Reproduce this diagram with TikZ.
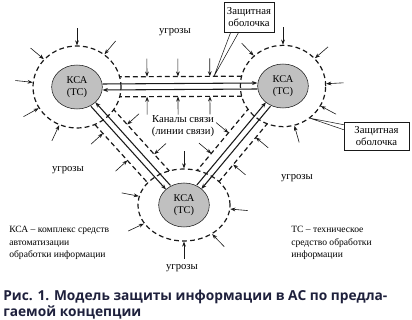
\documentclass[tikz,border=0pt]{standalone}
\usepackage{fontspec}
\setmainfont{Liberation Serif}
\newfontfamily\capfont{Open Sans}
\usetikzlibrary{arrows.meta,calc,shapes.geometric}
\definecolor{ink}{RGB}{25,25,25}
\definecolor{station}{RGB}{192,192,192}
\definecolor{capink}{RGB}{30,32,60}
\tikzset{
  >={Stealth[length=4pt,width=3pt]},
  ksa/.style={ellipse,draw=ink,fill=station,thin,minimum width=38pt,minimum height=33pt,
    inner sep=0pt,align=center,font=\fontsize{7.8}{9}\selectfont},
  shell/.style={ellipse,draw=ink,fill=white,line width=0.9pt,dash pattern=on 3.6pt off 2.4pt,inner sep=0pt},
  wall/.style={draw=ink,line width=0.9pt,dash pattern=on 3.6pt off 2.4pt},
  link/.style={draw=ink,line width=0.8pt},
  threat/.style={->,draw=ink,line width=0.45pt,>={Stealth[length=3.8pt,width=2.8pt]}},
  tag/.style={font=\fontsize{8}{9}\selectfont,align=center,inner sep=0pt},
  legend/.style={font=\fontsize{7.2}{9.4}\selectfont,align=left,inner sep=0pt,anchor=north west},
  callout/.style={draw=ink,thin,fill=white,align=center,inner sep=1pt,font=\fontsize{8}{9.4}\selectfont},
}
\begin{document}
\begin{tikzpicture}[x=0.75pt,y=-0.75pt]
  \useasboundingbox (0,0) rectangle (412,320);
  \coordinate (cL) at (77,87);
  \coordinate (cR) at (283,86);
  \coordinate (cB) at (184,205);
  % channel walls
  \draw[wall] ($(cL)!7.5pt!90:(cR)$) -- ($(cR)!7.5pt!-90:(cL)$);
  \draw[wall] ($(cL)!7.5pt!-90:(cR)$) -- ($(cR)!7.5pt!90:(cL)$);
  \draw[wall] ($(cL)!9pt!90:(cB)$) -- ($(cB)!9pt!-90:(cL)$);
  \draw[wall] ($(cL)!9pt!-90:(cB)$) -- ($(cB)!9pt!90:(cL)$);
  \draw[wall] ($(cB)!9pt!90:(cR)$) -- ($(cR)!9pt!-90:(cB)$);
  \draw[wall] ($(cB)!9pt!-90:(cR)$) -- ($(cR)!9pt!90:(cB)$);
  % protective shells
  \node[shell,minimum width=66pt,minimum height=61.5pt] (shellL) at (cL) {};
  \node[shell,minimum width=64pt,minimum height=61pt] (shellR) at (cR) {};
  \node[shell,minimum width=69pt,minimum height=54pt] (shellB) at (cB) {};
  % stations
  \node[ksa] (ksaL) at (cL) {КСА\\(ТС)};
  \node[ksa] (ksaR) at (cR) {КСА\\(ТС)};
  \node[ksa] (ksaB) at (cB) {КСА\\(ТС)};
  % links
  \draw[link,->] ($(ksaL.0)+(90:2.25pt)$) -- ($(ksaR.180)+(90:2.25pt)$);
  \draw[link,<-] ($(ksaL.0)+(-90:2.25pt)$) -- ($(ksaR.180)+(-90:2.25pt)$);
  \draw[link,<-] ($(ksaL.-47.8)+(42.2:2.25pt)$) -- ($(ksaB.132.2)+(42.2:2.25pt)$);
  \draw[link,->] ($(ksaL.-47.8)+(-137.8:2.25pt)$) -- ($(ksaB.132.2)+(-137.8:2.25pt)$);
  \draw[link,->] ($(ksaB.50.2)+(140.2:2.25pt)$) -- ($(ksaR.-129.8)+(140.2:2.25pt)$);
  \draw[link,<-] ($(ksaB.50.2)+(-39.8:2.25pt)$) -- ($(ksaR.-129.8)+(-39.8:2.25pt)$);
  % threats on shells
  \foreach \a in {50,90,140,174,209,245}
    \draw[threat] ($(shellL.\a)!-13pt!(shellL.center)$) -- (shellL.\a);
  \foreach \a in {3,41,90,134,-28,-74}
    \draw[threat] ($(shellR.\a)!-13pt!(shellR.center)$) -- (shellR.\a);
  \foreach \a in {90,169,205,270,314,355}
    \draw[threat] ($(shellB.\a)!-13pt!(shellB.center)$) -- (shellB.\a);
  % threats on channels
  \foreach \t in {0.34,0.49,0.645} {
    \draw[threat] ($(cL)!\t!(cR)!21pt!90:(cR)$) -- ($(cL)!\t!(cR)!7.5pt!90:(cR)$);
    \draw[threat] ($(cL)!\t!(cR)!21pt!-90:(cR)$) -- ($(cL)!\t!(cR)!7.5pt!-90:(cR)$);
  }
  \foreach \t in {0.386,0.638}
    \draw[threat] ($(cL)!\t!(cB)!21pt!90:(cB)$) -- ($(cL)!\t!(cB)!9pt!90:(cB)$);
  \foreach \t in {0.325,0.554}
    \draw[threat] ($(cL)!\t!(cB)!21pt!-90:(cB)$) -- ($(cL)!\t!(cB)!9pt!-90:(cB)$);
  \foreach \t in {0.369,0.542}
    \draw[threat] ($(cB)!\t!(cR)!21pt!90:(cR)$) -- ($(cB)!\t!(cR)!9pt!90:(cR)$);
  \foreach \t in {0.404,0.632}
    \draw[threat] ($(cB)!\t!(cR)!21pt!-90:(cR)$) -- ($(cB)!\t!(cR)!9pt!-90:(cR)$);
  % callouts
  \node[callout,minimum width=37.5pt,minimum height=22.5pt] (noteTop) at (249,17) {Защитная\\оболочка};
  \node[callout,minimum width=48.75pt,minimum height=21pt] (noteRight) at (376.5,136) {Защитная\\оболочка};
  \coordinate (tipTop) at ($(cL)!0.665!(cR)!7.5pt!90:(cR)$);
  \draw[ink,thin] ([xshift=5.25pt]noteTop.south west) -- (tipTop) -- ([xshift=11.25pt]noteTop.south west);
  \draw[ink,thin] ([yshift=-2.25pt]noteRight.north west) -- (shellR.-50) -- ([yshift=-6pt]noteRight.north west);
  % labels
  \node[tag] (threatTop) at (175,32) {угрозы};
  \node[tag] (threatLeft) at (68,170) {угрозы};
  \node[tag] (threatRight) at (297,178) {угрозы};
  \node[tag] (threatBottom) at (182,268) {угрозы};
  \node[tag] (chanLabel) at (183,126) {Каналы связи\\(линии связи)};
  \node[legend] (legendKSA) at (9,226) {КСА – комплекс средств\\автоматизации\\обработки информации};
  \node[legend] (legendTC) at (291,226) {ТС – техническое\\средство обработки\\информации};
  \node[anchor=north west,inner sep=0pt,align=left,text=capink,
    font=\capfont\bfseries\fontsize{10.3}{12}\selectfont] (caption) at (3,290)
    {Рис. 1. Модель защиты информации в АС по предла-\\гаемой концепции};
\end{tikzpicture}
\end{document}
